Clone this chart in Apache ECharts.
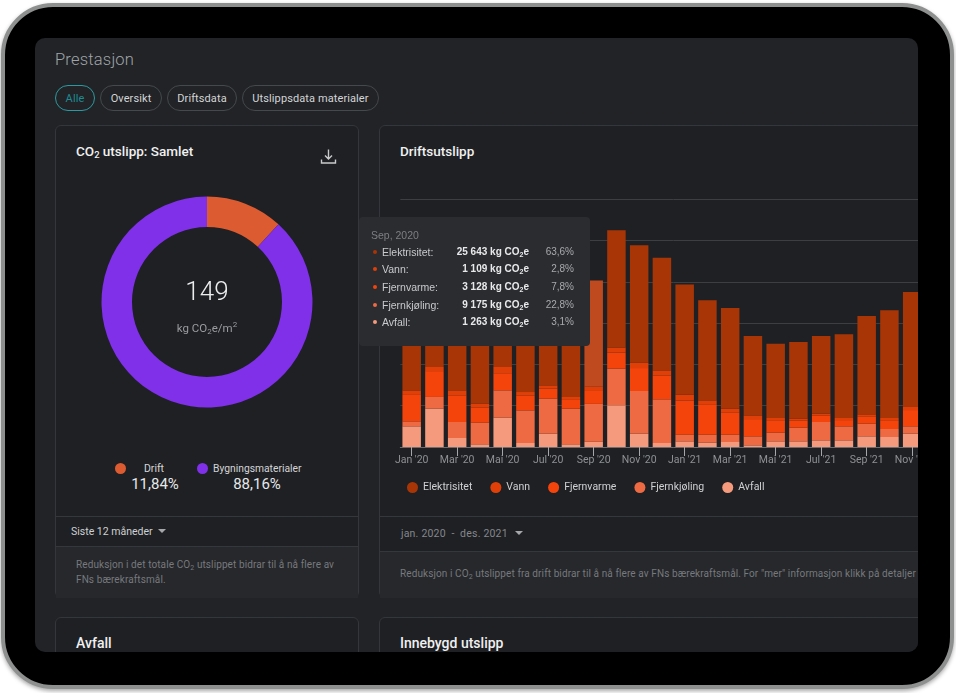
<!DOCTYPE html>
<html>
<head>
<meta charset="utf-8">
<title>Prestasjon</title>
<script src="https://cdn.jsdelivr.net/npm/echarts@6/dist/echarts.min.js"></script>
<style>
	html, body { margin: 0; padding: 0; width: 956px; height: 693px; background: #fff; overflow: hidden; font-family: Roboto, sans-serif; }
	sub { font-size: 70%; line-height: 0; vertical-align: -0.25em; }
	.abs { position: absolute; white-space: nowrap; }
	#tablet { position: absolute; left: 1px; top: 3px; width: 953px; height: 686px; box-sizing: border-box; background: #000; border: 4px solid #8e908f; border-radius: 52px; box-shadow: 0 2px 4px rgba(0,0,0,.35); }
	#screen { position: absolute; left: 35px; top: 38px; width: 883px; height: 614px; background: #212327; border-radius: 10px; overflow: hidden; }
	#page { position: absolute; left: -35px; top: -38px; width: 1000px; height: 693px; }
	.chip { position: absolute; top: 85px; height: 26px; line-height: 25px; box-sizing: border-box; border: 1px solid #45484c; border-radius: 13px; color: #d4d5d6; font-size: 11px; text-align: center; letter-spacing: .1px; }
	.chip.on { border-color: #2b9aa0; color: #1f8b91; }
	.card { position: absolute; box-sizing: border-box; background: #1e2024; border: 1px solid #33363a; border-radius: 6px; overflow: hidden; }
	.title { color: #f0f0f0; font-size: 13.5px; font-weight: 500; }
	.line { position: absolute; height: 1px; background: #34373b; }
	.desc { position: absolute; background: #26282c; }
	.note { color: #77797d; font-size: 10px; line-height: 15px; letter-spacing: .1px; }
	.dot { position: absolute; width: 11px; height: 11px; border-radius: 50%; }
	.arrow { position: absolute; width: 0; height: 0; border-left: 4px solid transparent; border-right: 4px solid transparent; border-top: 4px solid #a5a7aa; }
	.tip-row { position: absolute; left: 0; height: 14px; line-height: 14px; width: 231px; font-size: 10.5px; }
	.tip-row span { position: absolute; white-space: nowrap; }
</style>
</head>
<body>
<div id="tablet"></div>
<div id="screen"><div id="page">
	<div class="abs" style="left:55px;top:50px;font-size:16.5px;font-weight:300;color:#a0a3a7;letter-spacing:.2px">Prestasjon</div>
	<div class="chip on" style="left:55px;width:40px">Alle</div>
	<div class="chip" style="left:100px;width:62px">Oversikt</div>
	<div class="chip" style="left:167px;width:70px">Driftsdata</div>
	<div class="chip" style="left:242px;width:137px">Utslippsdata materialer</div>

	<div class="card" style="left:55px;top:125px;width:304px;height:473px"></div>
	<div class="card" style="left:379px;top:125px;width:600px;height:473px"></div>
	<div class="card" style="left:55px;top:617px;width:304px;height:120px"></div>
	<div class="card" style="left:379px;top:617px;width:600px;height:120px"></div>

	<div class="abs title" style="left:76px;top:143px">CO<sub>2</sub> utslipp: Samlet</div>
	<svg class="abs" style="left:320px;top:148px" width="17" height="17" viewBox="0 0 17 17" fill="none" stroke="#c9cacb" stroke-width="1.4">
		<path d="M8.5 1.5V10.5M5 7.5L8.5 11L12 7.5M1.5 11.5V15H15.5V11.5"/>
	</svg>
	<div id="donut" class="abs" style="left:90px;top:185px;width:234px;height:234px"></div>
	<div class="abs" style="left:147px;top:276px;width:120px;text-align:center;font-size:26px;font-weight:300;color:#eceded">149</div>
	<div class="abs" style="left:147px;top:321px;width:120px;text-align:center;font-size:11.5px;color:#9a9c9f">kg CO<sub>2</sub>e/m<sup style="font-size:70%;line-height:0">2</sup></div>

	<div class="dot" id="dot0" style="left:115px;top:463px"></div>
	<div class="abs" id="name0" style="left:114px;top:462px;width:80px;text-align:center;font-size:10.5px;color:#d4d5d6"></div>
	<div class="abs" id="share0" style="left:114px;top:475px;width:82px;text-align:center;font-size:15px;color:#e6e7e8"></div>
	<div class="dot" id="dot1" style="left:197px;top:463px"></div>
	<div class="abs" id="name1" style="left:213px;top:462px;font-size:10.3px;color:#d4d5d6"></div>
	<div class="abs" id="share1" style="left:217px;top:475px;width:80px;text-align:center;font-size:15px;color:#e6e7e8"></div>

	<div class="line" style="left:56px;top:516px;width:302px"></div>
	<div class="abs" style="left:71px;top:525px;font-size:10.5px;color:#cfd0d2">Siste 12 måneder</div>
	<div class="arrow" style="left:158px;top:529px"></div>
	<div class="desc" style="left:56px;top:546px;width:302px;height:51px;border-top:1px solid #34373b"></div>
	<div class="abs note" style="left:76px;top:557px">Reduksjon i det totale CO<sub>2</sub> utslippet bidrar til å nå flere av<br>FNs bærekraftsmål.</div>

	<div class="abs title" style="left:400px;top:143px">Driftsutslipp</div>
	<div class="line" style="left:380px;top:516px;width:540px"></div>
	<div class="abs" style="left:401px;top:527px;font-size:10.5px;color:#85878b;letter-spacing:.2px">jan. 2020 &nbsp;-&nbsp; des. 2021</div>
	<div class="arrow" style="left:515px;top:531px"></div>
	<div class="desc" style="left:380px;top:551px;width:540px;height:46px;border-top:1px solid #34373b"></div>
	<div class="abs note" style="left:400px;top:566px">Reduksjon i CO<sub>2</sub> utslippet fra drift bidrar til å nå flere av FNs bærekraftsmål. For "mer" informasjon klikk på detaljer</div>

	<div class="abs title" style="left:76px;top:635px;font-size:14px">Avfall</div>
	<div class="abs title" style="left:400px;top:635px;font-size:14px">Innebygd utslipp</div>

	<div id="bars" class="abs" style="left:359px;top:190px;width:600px;height:315px"></div>
</div></div>

<script>
	// månedene på x-aksen
	var months = ["Jan '20", "Feb '20", "Mar '20", "Apr '20", "Mai '20", "Jun '20", "Jul '20", "Aug '20", "Sep '20", "Okt '20", "Nov '20", "Des '20",
		"Jan '21", "Feb '21", "Mar '21", "Apr '21", "Mai '21", "Jun '21", "Jul '21", "Aug '21", "Sep '21", "Okt '21", "Nov '21", "Des '21"];

	// kg CO2e per måned
	var elektrisitet = [21800, 18560, 22600, 24200, 17750, 22190, 21390, 22600, 25643, 28400, 28400, 27280, 26710, 24210, 24370, 19200, 18000, 18560, 18800, 20260, 23810, 26070, 27680, 24210];
	var vann = [1100, 1000, 1200, 900, 1500, 900, 800, 700, 1109, 1200, 1300, 1300, 1400, 1100, 1000, 900, 700, 500, 500, 500, 600, 700, 900, 800];
	var fjernvarme = [6400, 6260, 6470, 3700, 4150, 3540, 2430, 2120, 3128, 3880, 5560, 5720, 8280, 7210, 5290, 4180, 2850, 1680, 1520, 1520, 1660, 1960, 3940, 3640];
	var fjernkjoling = [1210, 2820, 3870, 5250, 6620, 7900, 8470, 8630, 9175, 8880, 10330, 10570, 1610, 1940, 1780, 2180, 2100, 3310, 4440, 3390, 3070, 1940, 1780, 2000];
	var avfall = [5000, 9300, 2180, 650, 7100, 970, 3230, 650, 1263, 10100, 3230, 970, 1370, 1050, 1210, 400, 1370, 1370, 1610, 1610, 2580, 2420, 3230, 2800];

	var sourceNames = ['Elektrisitet', 'Vann', 'Fjernvarme', 'Fjernkjøling', 'Avfall'];
	var sourceColors = ['#a83506', '#e04008', '#f4440c', '#ee6a42', '#f59a7c'];
	var sourceValues = [elektrisitet, vann, fjernvarme, fjernkjoling, avfall];
	// måneden tooltip står på
	var activeMonth = 8;

	// donut
	var shareNames = ['Drift', 'Bygningsmaterialer'];
	var shareValues = [11.84, 88.16];
	var shareColors = ['#dc5b30', '#7f30e8'];

	shareNames.forEach(function(name, i) {
		document.getElementById('name' + i).textContent = name;
		document.getElementById('share' + i).textContent = shareValues[i].toFixed(2).replace('.', ',') + '%';
		document.getElementById('dot' + i).style.background = shareColors[i];
	});

	var donut = echarts.init(document.getElementById('donut'));
	donut.setOption({
		animation: false,
		color: shareColors,
		series: [{
			type: 'pie',
			radius: [75, 105.5],
			center: ['50%', '50%'],
			startAngle: 90,
			silent: true,
			label: { show: false },
			data: shareNames.map(function(name, i) {
				return { name: name, value: shareValues[i] };
			})
		}]
	});

	function spaced(n) {
		return String(n).replace(/\B(?=(\d{3})+$)/g, ' ');
	}

	function tipContent(i) {
		var total = 0;
		sourceValues.forEach(function(v) { total += v[i]; });
		var rowTops = [28, 45, 63, 81, 98];
		var html = '<div style="position:absolute;left:12px;top:12px;font-size:10.5px;line-height:12px;color:#7d7f83">' + months[i].replace(" '", ', 20') + '</div>';
		sourceNames.forEach(function(name, s) {
			var pct = (sourceValues[s][i] / total * 100).toFixed(1).replace('.', ',');
			html += '<div class="tip-row" style="top:' + rowTops[s] + 'px">'
				+ '<span style="left:14px;top:5px;width:4px;height:4px;border-radius:50%;background:' + sourceColors[s] + '"></span>'
				+ '<span style="left:23px;color:#c9cacc">' + name + ':</span>'
				+ '<span style="right:61px;color:#e8e9ea;font-weight:700;font-size:10px">' + spaced(sourceValues[s][i]) + ' kg CO<sub>2</sub>e</span>'
				+ '<span style="right:16px;color:#a8aaad;font-size:10px">' + pct + '%</span>'
				+ '</div>';
		});
		return html;
	}

	// stabling nedenfra: Avfall nederst, Elektrisitet øverst
	var stackOrder = [4, 3, 2, 1, 0];
	var barSeries = stackOrder.map(function(s) {
		return {
			name: sourceNames[s],
			type: 'bar',
			stack: 'drift',
			barWidth: 18.5,
			itemStyle: { color: sourceColors[s] },
			emphasis: { disabled: true },
			data: sourceValues[s].map(function(v, i) {
				if (i === activeMonth && s === 0) {
					return { value: v, itemStyle: { color: '#c04a20' } };
				}
				return v;
			})
		};
	});

	var bars = echarts.init(document.getElementById('bars'));
	bars.setOption({
		animation: false,
		grid: { left: 41.3, top: 9.2, width: 546, height: 247.8 },
		legend: {
			left: 43,
			top: 287,
			icon: 'circle',
			itemWidth: 11,
			itemHeight: 11,
			itemGap: 18,
			selectedMode: false,
			textStyle: { color: '#cfd0d2', fontSize: 10.5, fontFamily: 'Roboto' },
			data: sourceNames
		},
		tooltip: {
			trigger: 'axis',
			triggerOn: 'none',
			alwaysShowContent: true,
			transitionDuration: 0,
			axisPointer: { type: 'none' },
			backgroundColor: '#2a2c30',
			borderWidth: 0,
			padding: 0,
			extraCssText: 'width:231px;height:129px;box-shadow:none;border-radius:4px;',
			position: function() { return [0, 27]; },
			formatter: function() { return tipContent(activeMonth); }
		},
		xAxis: {
			type: 'category',
			data: months,
			axisLine: { show: true, lineStyle: { color: '#6a6d71' } },
			axisTick: { show: true, alignWithLabel: true, interval: 1, length: 9, lineStyle: { color: '#a5a7aa' } },
			axisLabel: { interval: 1, color: '#8e9094', fontSize: 10.5, fontFamily: 'Roboto', margin: 8 }
		},
		yAxis: {
			type: 'value',
			min: 0,
			max: 60000,
			interval: 10000,
			axisLine: { show: false },
			axisTick: { show: false },
			axisLabel: { show: false },
			splitLine: { show: true, lineStyle: { color: '#3c3e42' } }
		},
		series: barSeries
	});
	bars.dispatchAction({ type: 'showTip', seriesIndex: 0, dataIndex: activeMonth });
</script>
</body>
</html>
